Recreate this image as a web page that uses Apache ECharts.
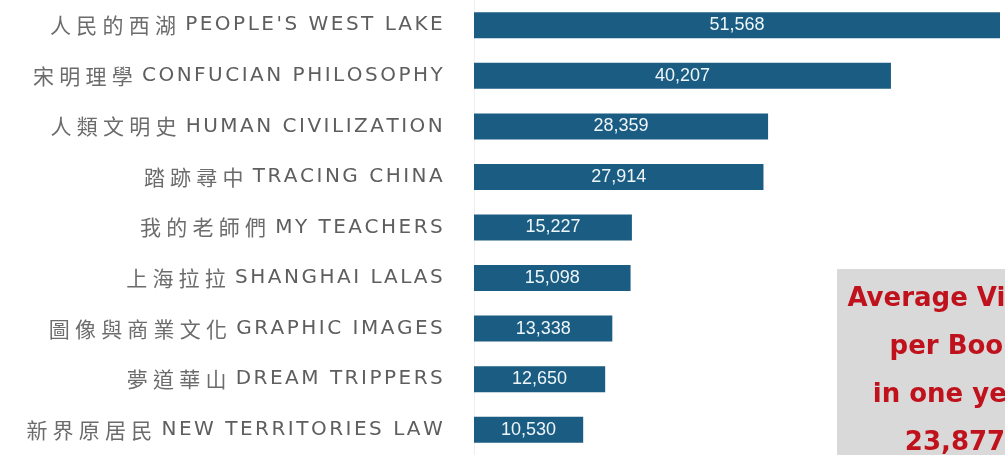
<!DOCTYPE html>
<html>
<head>
<meta charset="utf-8">
<script src="https://cdn.jsdelivr.net/npm/echarts@6/dist/echarts.min.js"></script>
<style>
html,body{margin:0;padding:0;background:#fff;}
#chart{width:1005px;height:455px;}
</style>
</head>
<body>
<div id="chart"></div>
<script>
const titlesZh = ['人民的西湖','宋明理學','人類文明史','踏跡尋中','我的老師們','上海拉拉','圖像與商業文化','夢道華山','新界原居民'];
const titlesEn = ["PEOPLE'S WEST LAKE",'CONFUCIAN PHILOSOPHY','HUMAN CIVILIZATION','TRACING CHINA','MY TEACHERS','SHANGHAI LALAS','GRAPHIC IMAGES','DREAM TRIPPERS','NEW TERRITORIES LAW'];
const views = [51568, 40207, 28359, 27914, 15227, 15098, 13338, 12650, 10530];
const noteLines = ['Average Views', 'per Book', 'in one year', '23,877'];

const categories = titlesZh.map((z, i) => z + ' ' + titlesEn[i]);

// spaced-out lettering: each glyph is a rich token with side padding
function spaced(str, styleName) {
  return Array.from(str).map(ch => '{' + styleName + '|' + ch + '}').join('');
}

const chart = echarts.init(document.getElementById('chart'));
chart.setOption({
  animation: false,
  backgroundColor: '#ffffff',
  grid: { left: 474, right: 5, top: -1, bottom: -14, containLabel: false },
  xAxis: { type: 'value', min: 0, max: 50723, show: false },
  yAxis: {
    type: 'category', inverse: true, data: categories,
    axisLine: { show: true, lineStyle: { color: '#eeeeee', width: 1 } },
    axisTick: { show: false },
    axisLabel: {
      margin: 30,
      formatter: function (v, i) {
        return spaced(titlesZh[i], 'zh') + '{gap| }' + spaced(titlesEn[i], 'en');
      },
      rich: {
        zh: { fontFamily: 'Noto Sans CJK TC', fontSize: 21, color: '#6c6c6c', padding: [0, 2.6, 0, 2.6] },
        gap: { fontFamily: 'DejaVu Sans', fontSize: 17, color: '#5a5a5a' },
        en: { fontFamily: 'DejaVu Sans', fontSize: 20, color: '#5e5e5e', padding: [0, 1.25, 0, 1.25] }
      }
    }
  },
  series: [{
    type: 'bar',
    data: views,
    barWidth: 26,
    itemStyle: { color: '#1a5c82' },
    label: {
      show: true, position: 'inside',
      color: '#eef6fa', fontFamily: 'Liberation Sans', fontSize: 18,
      formatter: p => p.value.toLocaleString('en-US')
    }
  }],
  graphic: [
    { type: 'rect', left: 837, top: 269, shape: { width: 200, height: 200 }, style: { fill: '#d9d9d9' }, z: 10 },
    ...noteLines.map((t, i) => ({
      type: 'text', x: 955, y: 299 + i * 48, z: 11,
      style: { text: t, fill: '#c0121c', font: 'bold 26px "DejaVu Sans"', textAlign: 'center', textVerticalAlign: 'middle' }
    }))
  ]
});
</script>
</body>
</html>
